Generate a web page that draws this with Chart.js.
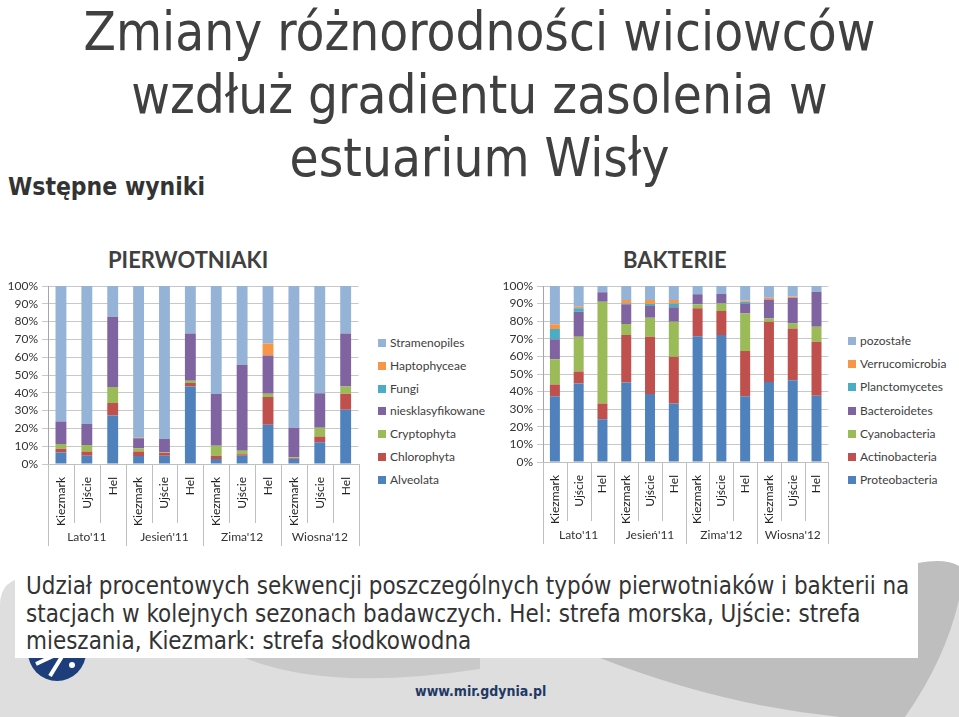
<!DOCTYPE html>
<html>
<head>
<meta charset="utf-8">
<script src="https://cdn.jsdelivr.net/npm/chart.js@4"></script>
<style>
  html,body{margin:0;padding:0;}
  body{width:959px;height:717px;overflow:hidden;background:#fff;position:relative;font-family:"DejaVu Sans Condensed","DejaVu Sans",sans-serif;}
  .abs{position:absolute;}
  #title div{position:absolute;left:0;width:959px;text-align:center;color:#404040;font-size:48px;white-space:nowrap;line-height:1;}
  #sub{left:8px;top:175px;font-weight:bold;font-size:22px;color:#333;white-space:nowrap;line-height:1;}
  .head{font-family:Lato,sans-serif;font-weight:bold;font-size:22px;color:#404040;white-space:nowrap;}
  .legend{font-family:Lato,sans-serif;font-size:12px;color:#404040;}
  .legend .it{position:absolute;left:0;white-space:nowrap;height:14px;line-height:14px;}
  .legend .sw{display:inline-block;width:8px;height:8px;margin-right:4px;vertical-align:0px;}
  #caption{left:15px;top:563px;width:903px;height:95px;background:#fff;z-index:3;}
  #caption div{position:absolute;left:11px;font-size:21px;color:#333;white-space:nowrap;line-height:1;}
  #url{left:415px;top:683px;font-weight:bold;font-size:14px;color:#1f3864;z-index:3;white-space:nowrap;}
</style>
</head>
<body>
<svg class="abs" style="left:0;top:0;z-index:0" width="959" height="717">
  <path d="M0 605 Q0 578 30 577 L959 577 L959 717 L0 717 Z" fill="#dedede"/>
  <path d="M245 658 Q330 692 480 669 L480 658 Z" fill="#c9c9c9"/>
  <path d="M600 658 Q720 705 840 717 L905 717 Q945 660 959 600 L959 566 Q945 558 918 563 L918 658 Z" fill="#bebebe"/>
  <circle cx="57" cy="652" r="29" fill="#1d3d7b"/>
  <path d="M36 664 L66 650 L50 676" stroke="#fff" stroke-width="4" fill="none"/>
  <circle cx="72" cy="665" r="3" fill="#fff"/>
</svg>

<div id="title" class="abs" style="left:0;top:0;width:959px;">
  <div id="t1" style="top:6px;">Zmiany różnorodności wiciowców</div>
  <div id="t2" style="top:69px;">wzdłuż gradientu zasolenia w</div>
  <div id="t3" style="top:132px;">estuarium Wisły</div>
</div>
<div id="sub" class="abs">Wstępne wyniki</div>
<div class="abs head" style="left:108px;top:246px;">PIERWOTNIAKI</div>
<div class="abs head" style="left:623px;top:246px;">BAKTERIE</div>

<div class="abs" style="left:0;top:270px;width:370px;height:285px;z-index:1"><canvas id="c1"></canvas></div>
<div class="abs" style="left:490px;top:270px;width:350px;height:285px;z-index:1"><canvas id="c2"></canvas></div>
<div id="leg1" class="abs legend" style="left:378px;top:336px;width:110px;height:160px;"></div>
<div id="leg2" class="abs legend" style="left:848px;top:334px;width:110px;height:160px;"></div>

<div id="caption" class="abs">
  <div style="top:12px;">Udział procentowych sekwencji poszczególnych typów pierwotniaków i bakterii na</div>
  <div style="top:40px;">stacjach w kolejnych sezonach badawczych. Hel: strefa morska, Ujście: strefa</div>
  <div style="top:67px;">mieszania, Kiezmark: strefa słodkowodna</div>
</div>
<div id="url" class="abs">www.mir.gdynia.pl</div>

<script>
// ---- categories ----
const stations = ["Kiezmark","Ujście","Hel","Kiezmark","Ujście","Hel","Kiezmark","Ujście","Hel","Kiezmark","Ujście","Hel"];
const seasons = ["Lato'11","Jesień'11","Zima'12","Wiosna'12"];
const yTicks = [0,10,20,30,40,50,60,70,80,90,100];

// ---- PIERWOTNIAKI (%) ----
const alveolata       = [6.5, 4.7, 27.3, 4.5, 4.7, 43.6, 2.8, 4.7, 22.0, 2.8, 12.2, 30.5];
const chlorophyta     = [2.0, 2.3, 6.9, 2.5, 1.5, 1.9, 1.9, 0.8, 15.6, 0.4, 3.2, 9.0];
const cryptophyta     = [2.8, 3.7, 9.0, 1.8, 0.3, 1.3, 5.5, 2.0, 1.9, 0.6, 4.9, 4.1];
const niesklasyfikowane = [12.6, 11.8, 39.5, 5.7, 7.6, 26.5, 29.3, 48.3, 21.5, 16.5, 19.5, 29.7];
const fungi           = [0, 0, 0, 0.3, 0, 0, 0, 0, 0, 0, 0, 0];
const haptophyceae    = [0, 0, 0, 0.2, 0, 0, 0, 0, 6.7, 0, 0, 0];
const stramenopiles   = [76.1, 77.5, 17.3, 85.0, 85.9, 26.7, 60.5, 44.2, 32.3, 79.7, 60.2, 26.7];

// ---- BAKTERIE (%) ----
const proteobacteria  = [37.4, 44.6, 24.3, 45.2, 38.7, 33.2, 71.5, 72.1, 37.4, 45.5, 46.5, 37.6];
const actinobacteria  = [6.6, 6.8, 8.9, 26.9, 32.5, 26.6, 15.8, 13.7, 25.6, 34.2, 29.4, 30.7];
const cyanobacteria   = [14.4, 19.8, 57.9, 6.3, 10.8, 19.9, 2.3, 4.3, 21.4, 1.9, 2.8, 8.6];
const bacteroidetes   = [11.4, 14.2, 5.3, 11.2, 6.6, 8.2, 5.7, 5.3, 5.7, 10.8, 14.6, 19.9];
const planctomycetes  = [5.7, 1.9, 0, 0.5, 1.2, 2.2, 0, 0, 1.0, 0, 0, 0];
const verrucomicrobia = [2.7, 0.9, 0, 1.9, 2.2, 1.9, 0, 0, 0.7, 0.9, 0.7, 0];
const pozostale       = [21.8, 11.8, 3.6, 8.0, 8.0, 8.0, 4.7, 4.6, 8.2, 6.7, 6.0, 3.2];

const palette = ["#4F81BD","#C0504D","#9BBB59","#8064A2","#4BACC6","#F79646","#95B3D7"];
const protNames = ["Alveolata","Chlorophyta","Cryptophyta","niesklasyfikowane","Fungi","Haptophyceae","Stramenopiles"];
const protData = [alveolata, chlorophyta, cryptophyta, niesklasyfikowane, fungi, haptophyceae, stramenopiles];
const bactNames = ["Proteobacteria","Actinobacteria","Cyanobacteria","Bacteroidetes","Planctomycetes","Verrucomicrobia","pozostałe"];
const bactData = [proteobacteria, actinobacteria, cyanobacteria, bacteroidetes, planctomycetes, verrucomicrobia, pozostale];

// fit title/caption widths
function fitWidth(el, target){
  const r = document.createRange(); r.selectNodeContents(el);
  const w = r.getBoundingClientRect().width;
  const fs = parseFloat(getComputedStyle(el).fontSize);
  return fs * target / w;
}
const tfs = fitWidth(document.getElementById('t1'), 792);
document.querySelectorAll('#title div').forEach(d=>d.style.fontSize = tfs+'px');
const capDivs = document.querySelectorAll('#caption div');
const cfs = fitWidth(capDivs[0], 884);
capDivs.forEach(d=>d.style.fontSize = cfs+'px');
const sub = document.getElementById('sub');
sub.style.fontSize = fitWidth(sub, 197)+'px';

const sepPlugin = {
  id:'seps',
  afterDraw(chart){
    const ctx = chart.ctx, a = chart.chartArea, xs = chart.scales.x;
    const n = stations.length;
    const half = (xs.getPixelForValue(1) - xs.getPixelForValue(0))/2;
    ctx.save();
    ctx.strokeStyle = '#bfbfbf'; ctx.lineWidth = 1;
    for(let i=0;i<=n;i++){
      const px = Math.round((i<n ? xs.getPixelForValue(i)-half : xs.getPixelForValue(n-1)+half))+0.5;
      const len = (i%3===0) ? 82 : 59;
      ctx.beginPath(); ctx.moveTo(px, a.bottom); ctx.lineTo(px, a.bottom+len); ctx.stroke();
    }
    ctx.fillStyle = '#333'; ctx.font = '12px Lato'; ctx.textAlign='center'; ctx.textBaseline='middle';
    seasons.forEach((s,g)=>{
      const cx = xs.getPixelForValue(g*3+1);
      ctx.fillText(s, cx, a.bottom+73);
    });
    ctx.restore();
  }
};

function makeChart(id, names, data, yW, xH, padR){
  new Chart(document.getElementById(id), {
    type:'bar',
    data:{labels:stations, datasets:names.map((n,i)=>({label:n,data:data[i],backgroundColor:palette[i],borderWidth:0,barPercentage:0.42,categoryPercentage:1}))},
    options:{
      responsive:true, maintainAspectRatio:false, animation:false,
      layout:{padding:{top:16,right:padR,left:0,bottom:0}},
      plugins:{legend:{display:false},tooltip:{enabled:false}},
      scales:{
        x:{stacked:true, grid:{display:false}, border:{display:true,color:'#bfbfbf'},
           ticks:{minRotation:90,maxRotation:90,autoSkip:false,padding:5,color:'#222',font:{family:'Lato',size:12}},
           afterFit(s){s.height = xH;}},
        y:{stacked:true, min:0, max:100, afterBuildTicks(s){s.ticks = yTicks.map(v=>({value:v}));},
           grid:{color:'#c8c8c8',tickLength:6}, border:{display:true,color:'#a6a6a6'},
           ticks:{padding:4,color:'#333',font:{family:'Lato',size:12},callback:v=>v+'%'},
           afterFit(s){s.width = yW;}}
      }
    },
    plugins:[sepPlugin]
  });
}
makeChart('c1', protNames, protData, 48, 91, 11.4);
makeChart('c2', bactNames, bactData, 53, 93, 11.6);

function legend(id, names, spacing){
  const el = document.getElementById(id);
  for(let i=names.length-1, k=0;i>=0;i--,k++){
    const d = document.createElement('div'); d.className='it';
    d.style.top = (k*spacing)+'px';
    d.innerHTML = '<span class="sw" style="background:'+palette[i]+'"></span>'+names[i];
    el.appendChild(d);
  }
}
legend('leg1', protNames, 22.8);
legend('leg2', bactNames, 23.2);
</script>
</body>
</html>
